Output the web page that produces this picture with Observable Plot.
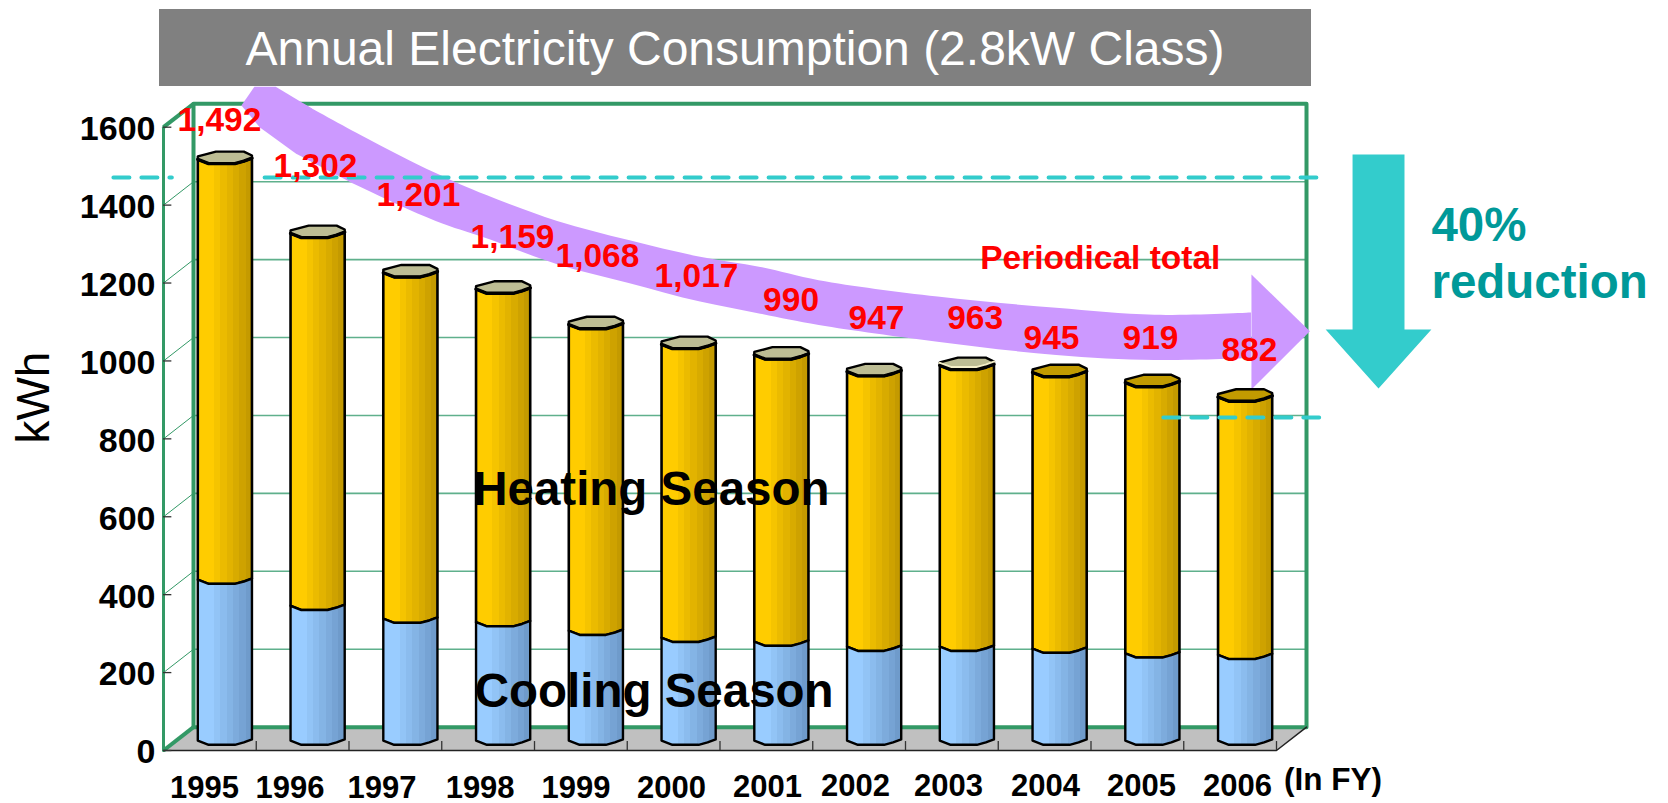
<!DOCTYPE html>
<html>
<head>
<meta charset="utf-8">
<script src="https://cdn.jsdelivr.net/npm/d3@7"></script>
<script src="https://cdn.jsdelivr.net/npm/@observablehq/plot@0.6"></script>
<style>
html,body{margin:0;padding:0;background:#fff;width:1668px;height:803px;overflow:hidden}
#title{position:absolute;left:159px;top:9px;width:1152px;height:77px;background:#808080;color:#fff;text-align:center;font:48px/79px "Liberation Sans",Arial,sans-serif;z-index:2}
#chart{position:absolute;left:0;top:86px}
</style>
</head>
<body>
<div id="title">Annual Electricity Consumption (2.8kW Class)</div>
<div id="chart"></div>
<script>
const years   = [1995,1996,1997,1998,1999,2000,2001,2002,2003,2004,2005,2006];
const totals  = [1492,1302,1201,1159,1068,1017,990,947,963,945,919,882];
const cooling = [413,346,313,304,282,264,254,241,241,236,224,220];
const heating = [1079,956,888,855,786,753,736,706,722,709,695,662];
const yTicks  = [0,200,400,600,800,1000,1200,1400,1600];

// periodical-total trend arrow: band edges by year, then tail and head outlines
const trendYear  = [1996.0,1996.63,1997.44,1997.98,1998.75,1999.52,2000.29,2000.94,2001.57,2002.85,2004.13,2005.19,2006.23];
const trendUpper = [1661,1579,1481,1425,1358,1309,1266,1240,1206,1164,1135,1117,1123];
const trendLower = [1523,1445,1358,1314,1247,1199,1151,1120,1091,1048,1014,1001,1006];
const trendTail  = [[1995.71,1704],[1996.1,1648],[1996.1,1511],[1995.93,1532],[1995.54,1599],[1995.34,1656],[1995.48,1704],[1995.71,1704]];
const trendHead  = [[2006.23,1222],[2006.86,1076],[2006.23,927],[2006.23,1222]];
// 40% reduction arrow outline as [year, kWh]
const reductionArrow = [
  [2007.32,1530],[2007.88,1530],[2007.88,1081],[2008.17,1081],[2007.60,929],[2007.03,1081],[2007.32,1081],[2007.32,1530]
];

// ---- drawing constants, separate from the values ----
const GREEN = "#339966", FONT = "Liberation Sans", PURPLE = "#CC99FF";
const XMIN = 1994.5, XMAX = 2006.5;
const DX = 0.3235, DV = 60;        // depth of the 3-D box, in data units
const HW = 0.292, HD = 15.4;       // half width / half depth of a cylinder
const FRONT = [[-1,.3],[-.6,1],[.37,1],[.7,.6],[1,.1]];
const BACK  = [[1,-.35],[.7,-1],[-.33,-1],[-.75,-.5],[-1,-.2]];
const pt = (year, v, [nx, ny]) => ({x: year + DX/2 + nx*HW, y: v + DV/2 - ny*HD});

const rows = years.map((year,i)=>({year,total:totals[i],cool:cooling[i],heat:heating[i]}));
const body = (r, lo, hi) => [
  ...FRONT.map(p=>pt(r.year,hi,p)),
  ...FRONT.slice().reverse().map(p=>pt(r.year,lo,p)),
  pt(r.year,hi,FRONT[0])
].map(p=>({...p,id:r.year}));
const cap = r => [...FRONT,...BACK,FRONT[0]].map(p=>({...pt(r.year,r.cool+r.heat,p),id:r.year}));
const arc = (r,shift=0) => FRONT.map(p=>({...pt(r.year,r.cool+r.heat+shift,p),id:r.year}));
const heatBodies = rows.flatMap(r=>body(r,r.cool,r.cool+r.heat));
const coolBodies = rows.flatMap(r=>body(r,0,r.cool));
const capsPale = rows.filter(r=>r.year<2004).flatMap(cap);
const capsDark = rows.filter(r=>r.year>=2004).flatMap(cap);
const topArcs = rows.flatMap(r=>arc(r));
const trendBand = trendYear.map((x,i)=>({x,y1:trendUpper[i],y2:trendLower[i]}));

const labelDx = [9.6,12.9,23.1,24.4,16.6,22.9,24.7,17.4,23.3,6.9,13.1,19.4];
const labelDy = [-49.3,-76.8,-87.6,-61.5,-78,-77.8,-64.6,-63.1,-56.9,-43.9,-54,-56.4];
const yearDx  = [-5.4,-12.6,-13.3,-8,-4.9,-2.1,1.1,-3.6,-3.4,.9,4.1,7.4];
const yearDy  = [38,38,38,38,38,38,37,36,36,35.5,36,36];

const poly = (arr,o) => Plot.line(arr,{x:"0",y:"1",...o});
const txt = (s,x,y,o) => Plot.text([s],{x:()=>x,y:()=>y,text:d=>d,fontWeight:"bold",lineAnchor:"middle",...o});
const boundaries = d3.range(XMIN+1,XMAX+0.5);

const chart = Plot.plot({
  width:1668, height:717,
  marginLeft:163, marginRight:392, marginTop:40.7, marginBottom:53,
  x:{type:"linear",domain:[XMIN,XMAX],axis:null},
  y:{type:"linear",domain:[0,1600]},
  style:{fontFamily:FONT,background:"transparent",overflow:"visible"},
  marks:[
    // floor
    poly([[XMIN,0],[XMAX,0],[XMAX+DX,DV],[XMIN+DX,DV],[XMIN,0]],{fill:"#C0C0C0",stroke:"none"}),
    // wall gridlines
    Plot.ruleY(yTicks.slice(1,-1),{y:d=>d+DV,x1:XMIN+DX,x2:XMAX+DX,stroke:"#5FB08C",strokeWidth:1.6}),
    Plot.link(yTicks.slice(1,-1),{x1:()=>XMIN,y1:d=>d,x2:()=>XMIN+DX,y2:d=>d+DV,stroke:GREEN,strokeWidth:1}),
    // box frame
    poly([[XMIN+DX,DV],[XMIN+DX,1600+DV],[XMAX+DX,1600+DV],[XMAX+DX,DV],[XMIN+DX,DV]],{stroke:GREEN,strokeWidth:4}),
    poly([[XMIN,0],[XMIN,1600]],{stroke:GREEN,strokeWidth:3}),
    Plot.link([0,1600],{x1:()=>XMIN,y1:d=>d,x2:()=>XMIN+DX,y2:d=>d+DV,stroke:GREEN,strokeWidth:4}),
    // floor front edges and ticks
    poly([[XMIN,0],[XMAX,0],[XMAX+DX,DV]],{stroke:"#222",strokeWidth:1.5}),
    Plot.ruleX(boundaries,{y1:0,y2:23,stroke:"#333",strokeWidth:1.3}),
    Plot.ruleY(yTicks,{x1:XMIN,x2:XMIN+0.09,stroke:"#333",strokeWidth:1.3}),
    // trend arrow
    Plot.areaY(trendBand,{x:"x",y1:"y1",y2:"y2",curve:"catmull-rom",fill:PURPLE}),
    poly(trendTail,{fill:PURPLE,stroke:"none"}),
    poly(trendHead,{fill:PURPLE,stroke:"none"}),
    // cylinders
    Plot.line(heatBodies,{x:"x",y:"y",z:"id",fill:"url(#yellowGrad)",stroke:"black",strokeWidth:2.6,strokeLinejoin:"round"}),
    Plot.line(coolBodies,{x:"x",y:"y",z:"id",fill:"url(#blueGrad)",stroke:"black",strokeWidth:2.4,strokeLinejoin:"round"}),
    Plot.line(capsPale,{x:"x",y:"y",z:"id",fill:"#BDBD94",stroke:"black",strokeWidth:2.4,strokeLinejoin:"round"}),
    Plot.line(capsDark,{x:"x",y:"y",z:"id",fill:"#C29B00",stroke:"black",strokeWidth:2.4,strokeLinejoin:"round"}),
    Plot.line(arc(rows[8],6),{x:"x",y:"y",stroke:"#F4EFC8",strokeWidth:2.6}),
    Plot.line(topArcs,{x:"x",y:"y",z:"id",stroke:"black",strokeWidth:3.4,strokeLinejoin:"round"}),
    // dashed level lines
    poly([[1993.96,1471],[1994.59,1471]],{stroke:"#33CCCC",strokeWidth:4,strokeDasharray:"16 12"}),
    poly([[1995.59,1471],[2006.93,1471]],{stroke:"#33CCCC",strokeWidth:4,strokeDasharray:"16 12"}),
    poly([[2005.28,855],[2006.96,855]],{stroke:"#33CCCC",strokeWidth:4,strokeDasharray:"16 12"}),
    // reduction arrow
    poly(reductionArrow,{fill:"#33CCCC",stroke:"none"}),
    // axes
    Plot.axisY(yTicks,{tickSize:0,tickPadding:8,tickFormat:d=>String(d),fontSize:34,fontWeight:"bold",fill:"black",label:null,dy:2}),
    txt("kWh",1993.11,906,{rotate:-90,fontSize:46,fontWeight:"normal",fill:"black"}),
    ...years.map((y,i)=>txt(String(y),y,0,{dx:yearDx[i],dy:yearDy[i],fontSize:31,fill:"black"})),
    txt("(In FY)",2007.11,0,{dy:29,fontSize:31.5,fill:"black"}),
    // value labels
    ...rows.map((r,i)=>txt(d3.format(",")(r.total),r.year,r.total,{dx:labelDx[i],dy:labelDy[i],fontSize:33.5,fill:"#FF0000"})),
    // annotations
    txt("Periodical total",2004.6,1264,{fontSize:33.5,fill:"#FF0000"}),
    txt("Heating Season",1999.76,668,{fontSize:47.5,fill:"black"}),
    txt("Cooling Season",1999.79,151,{fontSize:47.5,fill:"black"}),
    txt("40%",2008.17,1347,{textAnchor:"start",fontSize:47.5,fill:"#009999"}),
    txt("reduction",2008.17,1200,{textAnchor:"start",fontSize:47.5,fill:"#009999"})
  ]
});

// stepped shading across each cylinder
function steppedStops(c0,c1){
  const n=7, stops=[];
  const interp=d3.interpolateRgb(c0,c1);
  let a=0;
  for(let i=0;i<n;i++){
    const b = i===0 ? 0.3 : 0.3+0.7*i/(n-1);
    const col = interp(i/(n-1));
    stops.push(`<stop offset="${a}" stop-color="${col}"/><stop offset="${b}" stop-color="${col}"/>`);
    a=b;
  }
  return stops.join("");
}
const defs=document.createElementNS("http://www.w3.org/2000/svg","defs");
defs.innerHTML=`<linearGradient id="yellowGrad" x1="0" x2="1" y1="0" y2="0">${steppedStops("#FFCC00","#C49A00")}</linearGradient>
<linearGradient id="blueGrad" x1="0" x2="1" y1="0" y2="0">${steppedStops("#99CCFF","#6F9BCB")}</linearGradient>`;
chart.insertBefore(defs,chart.firstChild);
document.getElementById("chart").appendChild(chart);
</script>
</body>
</html>
